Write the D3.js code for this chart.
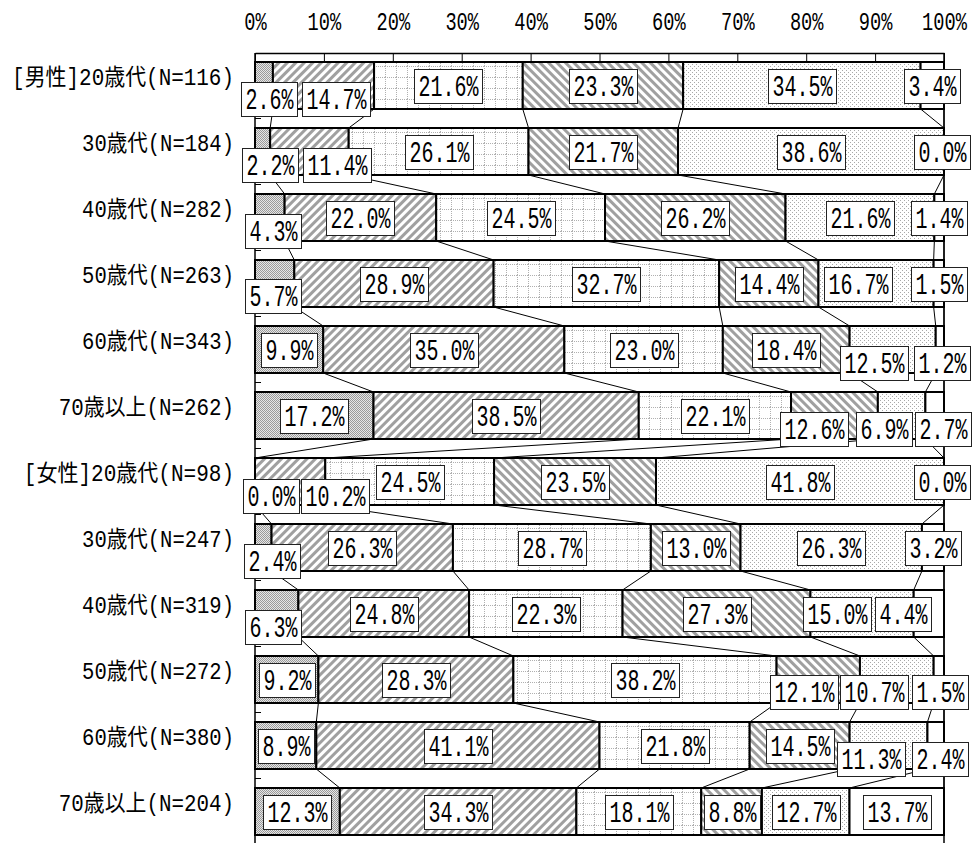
<!DOCTYPE html>
<html><head><meta charset="utf-8">
<script src="https://cdn.jsdelivr.net/npm/d3@7/dist/d3.min.js"></script>
<style>body{margin:0;background:#fff}svg{display:block}</style>
</head><body>
<svg id="chart" width="972" height="843"></svg>
<script>
// ---- data ----
const categories = [
  "[男性]20歳代(N=116)", "30歳代(N=184)", "40歳代(N=282)", "50歳代(N=263)",
  "60歳代(N=343)", "70歳以上(N=262)", "[女性]20歳代(N=98)", "30歳代(N=247)",
  "40歳代(N=319)", "50歳代(N=272)", "60歳代(N=380)", "70歳以上(N=204)"
];
const series1 = [2.6, 2.2, 4.3, 5.7, 9.9, 17.2, 0.0, 2.4, 6.3, 9.2, 8.9, 12.3];
const series2 = [14.7, 11.4, 22.0, 28.9, 35.0, 38.5, 10.2, 26.3, 24.8, 28.3, 41.1, 34.3];
const series3 = [21.6, 26.1, 24.5, 32.7, 23.0, 22.1, 24.5, 28.7, 22.3, 38.2, 21.8, 18.1];
const series4 = [23.3, 21.7, 26.2, 14.4, 18.4, 12.6, 23.5, 13.0, 27.3, 12.1, 14.5, 8.8];
const series5 = [34.5, 38.6, 21.6, 16.7, 12.5, 6.9, 41.8, 26.3, 15.0, 10.7, 11.3, 12.7];
const series6 = [3.4, 0.0, 1.4, 1.5, 1.2, 2.7, 0.0, 3.2, 4.4, 1.5, 2.4, 13.7];
const tickValues = [0, 10, 20, 30, 40, 50, 60, 70, 80, 90, 100];
const seriesKeys = ["s1", "s2", "s3", "s4", "s5", "s6"];

// ---- layout (label box nudges, px) ----
const labelNudge = {
  "0-0": [5.5, 13.5], "0-1": [12.5, 13.5],
  "1-0": [7.5, 13.5], "1-1": [27.5, 13.5], "1-5": [-2, 0],
  "2-0": [3, 13],
  "3-0": [-2, 12.5], "3-4": [-18, 0],
  "4-4": [-18.7, 13.5], "4-5": [2, 13.5],
  "5-3": [-20, 13], "5-4": [-18, 13], "5-5": [8, 13],
  "6-0": [16, 14], "6-1": [45, 14], "6-5": [-2, 0],
  "7-0": [9, 13.5],
  "8-0": [-4, 13.5], "8-4": [-25, 0], "8-5": [-26, 0],
  "9-3": [-14.5, 12.5], "9-4": [-23, 12.5], "9-5": [1, 12.5],
  "10-4": [-18, 13.5], "10-5": [4, 13.5]
};

const table = categories.map((c, i) => ({
  cat: c, s1: series1[i], s2: series2[i], s3: series3[i],
  s4: series4[i], s5: series5[i], s6: series6[i]
}));
const stacked = d3.stack().keys(seriesKeys).offset(d3.stackOffsetExpand)(table);

const svg = d3.select("#chart");
const x = d3.scaleLinear().domain([0, 1]).range([255, 944]);
const y = d3.scaleBand().domain(categories).range([52.5, 844.5])
  .paddingInner(19 / 66).paddingOuter(19 / 132);
const bw = y.bandwidth();

const monoFont = "'Liberation Mono', 'DejaVu Sans Mono', monospace";
const labelFont = "'Liberation Mono', 'Noto Sans CJK JP', monospace";

// ---- patterns ----
const defs = svg.append("defs");
let p = defs.append("pattern").attr("id", "p0").attr("patternUnits", "userSpaceOnUse").attr("width", 2).attr("height", 2);
p.append("rect").attr("width", 2).attr("height", 2).attr("fill", "#e6e6e6");
p.append("rect").attr("width", 1).attr("height", 1).attr("fill", "#9a9a9a");
p.append("rect").attr("x", 1).attr("y", 1).attr("width", 1).attr("height", 1).attr("fill", "#9a9a9a");
p = defs.append("pattern").attr("id", "p1").attr("patternUnits", "userSpaceOnUse").attr("width", 6).attr("height", 6).attr("patternTransform", "rotate(45)");
p.append("rect").attr("width", 6).attr("height", 6).attr("fill", "#fff");
p.append("rect").attr("width", 3).attr("height", 6).attr("fill", "#a0a0a0");
p = defs.append("pattern").attr("id", "p2").attr("patternUnits", "userSpaceOnUse").attr("width", 11).attr("height", 11);
p.append("rect").attr("width", 11).attr("height", 11).attr("fill", "#fff");
for (let k = 0; k < 11; k += 2) {
  p.append("rect").attr("x", k).attr("y", 0).attr("width", 1).attr("height", 1).attr("fill", "#b0b0b0");
  p.append("rect").attr("x", 0).attr("y", k).attr("width", 1).attr("height", 1).attr("fill", "#b0b0b0");
}
p = defs.append("pattern").attr("id", "p3").attr("patternUnits", "userSpaceOnUse").attr("width", 6).attr("height", 6).attr("patternTransform", "rotate(-45)");
p.append("rect").attr("width", 6).attr("height", 6).attr("fill", "#fff");
p.append("rect").attr("width", 3).attr("height", 6).attr("fill", "#a0a0a0");
p = defs.append("pattern").attr("id", "p4").attr("patternUnits", "userSpaceOnUse").attr("width", 4).attr("height", 4);
p.append("rect").attr("width", 4).attr("height", 4).attr("fill", "#fff");
p.append("rect").attr("width", 1).attr("height", 1).attr("fill", "#a8a8a8");
p.append("rect").attr("x", 2).attr("y", 2).attr("width", 1).attr("height", 1).attr("fill", "#a8a8a8");
p = defs.append("pattern").attr("id", "p5").attr("patternUnits", "userSpaceOnUse").attr("width", 4).attr("height", 4);
p.append("rect").attr("width", 4).attr("height", 4).attr("fill", "#fff");

// ---- bars ----
const gBars = svg.append("g");
stacked.forEach((layer, k) => {
  gBars.selectAll(null).data(layer).join("rect")
    .attr("x", d => x(d[0]))
    .attr("y", d => y(d.data.cat))
    .attr("width", d => Math.max(0, x(d[1]) - x(d[0])))
    .attr("height", bw)
    .attr("fill", `url(#p${k})`)
    .attr("stroke", "#000")
    .attr("stroke-width", 2);
});

// ---- series lines ----
const gLines = svg.append("g").attr("stroke", "#000").attr("stroke-width", 1);
stacked.forEach(layer => {
  for (let i = 0; i < layer.length - 1; i++) {
    gLines.append("line")
      .attr("x1", x(layer[i][1])).attr("y1", y(categories[i]) + bw)
      .attr("x2", x(layer[i + 1][1])).attr("y2", y(categories[i + 1]));
  }
});

// ---- frame / axes ----
const plotTop = 53, plotBottom = 845;
const xAxis = d3.axisTop(x)
  .tickValues(tickValues.map(t => t / 100))
  .tickSizeInner(-9).tickSizeOuter(0).tickPadding(23)
  .tickFormat(d => Math.round(d * 100) + "%");
const gx = svg.append("g").attr("transform", `translate(0,${plotTop})`).call(xAxis);
gx.select(".domain").attr("stroke", "#000").attr("stroke-width", 1.5);
gx.selectAll(".tick line").attr("stroke", "#000").attr("stroke-width", 1);
gx.selectAll(".tick text")
  .attr("font-family", monoFont)
  .attr("font-size", 26).attr("fill", "#000")
  .attr("dy", "0")
  .attr("textLength", function () { return this.textContent.length * 11.2; })
  .attr("lengthAdjust", "spacingAndGlyphs");

svg.append("line").attr("x1", 255).attr("x2", 255).attr("y1", plotTop).attr("y2", plotBottom)
  .attr("stroke", "#000").attr("stroke-width", 1.5);
svg.append("line").attr("x1", 944).attr("x2", 944).attr("y1", plotTop).attr("y2", plotBottom)
  .attr("stroke", "#000").attr("stroke-width", 1.5);
categories.forEach((c, i) => {
  if (i === 0) return;
  const yy = y(c) - (y.step() - bw) / 2;
  svg.append("line").attr("x1", 255).attr("x2", 261).attr("y1", yy).attr("y2", yy)
    .attr("stroke", "#000").attr("stroke-width", 1);
});

// category labels (half-width ASCII, full-width CJK)
const catWidth = s => Array.from(s).reduce((a, ch) => a + (ch.charCodeAt(0) < 256 ? 11.7 : 23.3), 0);
svg.append("g").selectAll("text").data(categories).join("text")
  .attr("x", d => 234 - catWidth(d))
  .attr("y", d => y(d) + bw / 2 - 0.5)
  .attr("font-family", labelFont)
  .attr("font-size", 23)
  .attr("fill", "#000")
  .attr("textLength", d => catWidth(d))
  .attr("lengthAdjust", "spacingAndGlyphs")
  .text(d => d);

// ---- value labels ----
const fmt = d3.format(".1f");
const gLab = svg.append("g");
stacked.forEach((layer, k) => {
  layer.forEach((d, i) => {
    const v = table[i][seriesKeys[k]];
    const txt = fmt(v) + "%";
    const n = txt.length;
    const nd = labelNudge[`${i}-${k}`] || [0, 0];
    const cx = x((d[0] + d[1]) / 2) + nd[0];
    const cy = y(d.data.cat) + bw / 2 + nd[1];
    const w = n * 12 + 8, h = 34;
    const g = gLab.append("g");
    g.append("rect")
      .attr("x", Math.round(cx - w / 2) + 0.5).attr("y", Math.round(cy - h / 2) + 0.5)
      .attr("width", w).attr("height", h)
      .attr("fill", "#fff").attr("stroke", "#222").attr("stroke-width", 1);
    g.append("text")
      .attr("x", Math.round(cx) + 0.5).attr("y", Math.round(cy) + 10)
      .attr("text-anchor", "middle")
      .attr("font-family", monoFont)
      .attr("font-size", 30)
      .attr("fill", "#000")
      .attr("textLength", n * 12).attr("lengthAdjust", "spacingAndGlyphs")
      .text(txt);
  });
});
</script>
</body></html>
